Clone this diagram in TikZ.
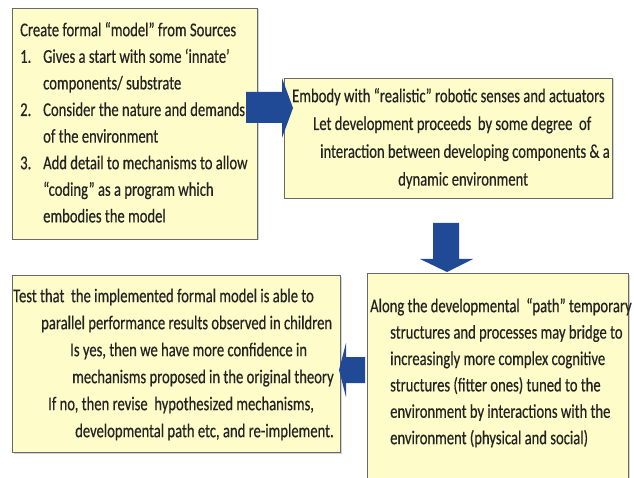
\documentclass[tikz,border=0pt]{standalone}
\usepackage{fontspec}
\setmainfont{Carlito}[FakeStretch=0.75,FakeBold=0.4]
\usetikzlibrary{shadows}
\definecolor{boxfill}{RGB}{254,252,200}
\definecolor{boxline}{RGB}{105,105,105}
\definecolor{arrowblue}{RGB}{33,74,150}
\definecolor{txt}{RGB}{35,35,35}
\begin{document}
\begin{tikzpicture}[x=1pt,y=-1pt,
  panel/.style={draw=boxline, fill=boxfill, line width=0.9pt, inner sep=0pt,
    drop shadow={shadow xshift=1.5pt, shadow yshift=-1.5pt, opacity=0.35}},
  txtblock/.style={anchor=north west, inner sep=0pt, align=left, text=txt},
  blk/.style={fill=arrowblue, draw=none}]
\useasboundingbox (0,0) rectangle (634,478);
\clip (0,0) rectangle (634,478);
\fill[white] (0,0) rectangle (634,478);
% boxes
\node[panel, minimum width=245pt, minimum height=231pt] (b1) at (134.5,123.5) {};
\node[panel, minimum width=328pt, minimum height=120pt] (b2) at (448,138) {};
\node[panel, minimum width=328pt, minimum height=177pt] (b3) at (176,363.5) {};
\node[panel, minimum width=261pt, minimum height=217pt] (b4) at (498,381.5) {};
% texts
\node[txtblock, font=\fontsize{19.5}{26.6}\selectfont] (t1) at (20,20) {\rule{0pt}{16pt}Create formal “model” from Sources\\
\makebox[23pt][l]{1.}Gives a start with some ‘innate’\\
\hspace*{23pt}components/ substrate\\
\makebox[23pt][l]{2.}Consider the nature and demands\\
\hspace*{23pt}of the environment\\
\makebox[23pt][l]{3.}Add detail to mechanisms to allow\\
\hspace*{23pt}“coding” as a program which\\
\hspace*{23pt}embodies the model};
\node[txtblock, font=\fontsize{19.5}{27.8}\selectfont] (t2) at (292,86) {\rule{0pt}{16pt}Embody with “realistic” robotic senses and actuators\\
\hspace*{21pt}Let development proceeds\ \ by some degree\ \ of\\
\hspace*{28pt}interaction between developing components \& a\\
\hspace*{106pt}dynamic environment};
\node[txtblock, font=\fontsize{19.5}{27}\selectfont] (t3) at (13,286) {\rule{0pt}{16pt}Test that\ \ the implemented formal model is able to\\
\hspace*{28pt}parallel performance results observed in children\\
\hspace*{57pt}Is yes, then we have more confidence in\\
\hspace*{59pt}mechanisms proposed in the original theory\\
\hspace*{35pt}If no, then revise\ \ hypothesized mechanisms,\\
\hspace*{62pt}developmental path etc, and re-implement.};
\node[txtblock, font=\fontsize{19.5}{26.4}\selectfont] (t4) at (370,296) {\rule{0pt}{16pt}Along the developmental\ \ “path” temporary\\
\hspace*{20pt}structures and processes may bridge to\\
\hspace*{20pt}increasingly more complex cognitive\\
\hspace*{20pt}structures (fitter ones) tuned to the\\
\hspace*{20pt}environment by interactions with the\\
\hspace*{20pt}environment (physical and social)};
% block arrows
\fill[blk] (246,92) -- (282,92) -- (282,78) -- (293,108) -- (282,138) -- (282,123) -- (246,123) -- cycle;
\fill[blk] (433,223) -- (459,223) -- (459,259) -- (473,259) -- (447,272) -- (420,259) -- (433,259) -- cycle;
\fill[blk] (365,357) -- (346,357) -- (346,343) -- (339,370) -- (346,397) -- (346,383) -- (365,383) -- cycle;
\end{tikzpicture}
\end{document}
